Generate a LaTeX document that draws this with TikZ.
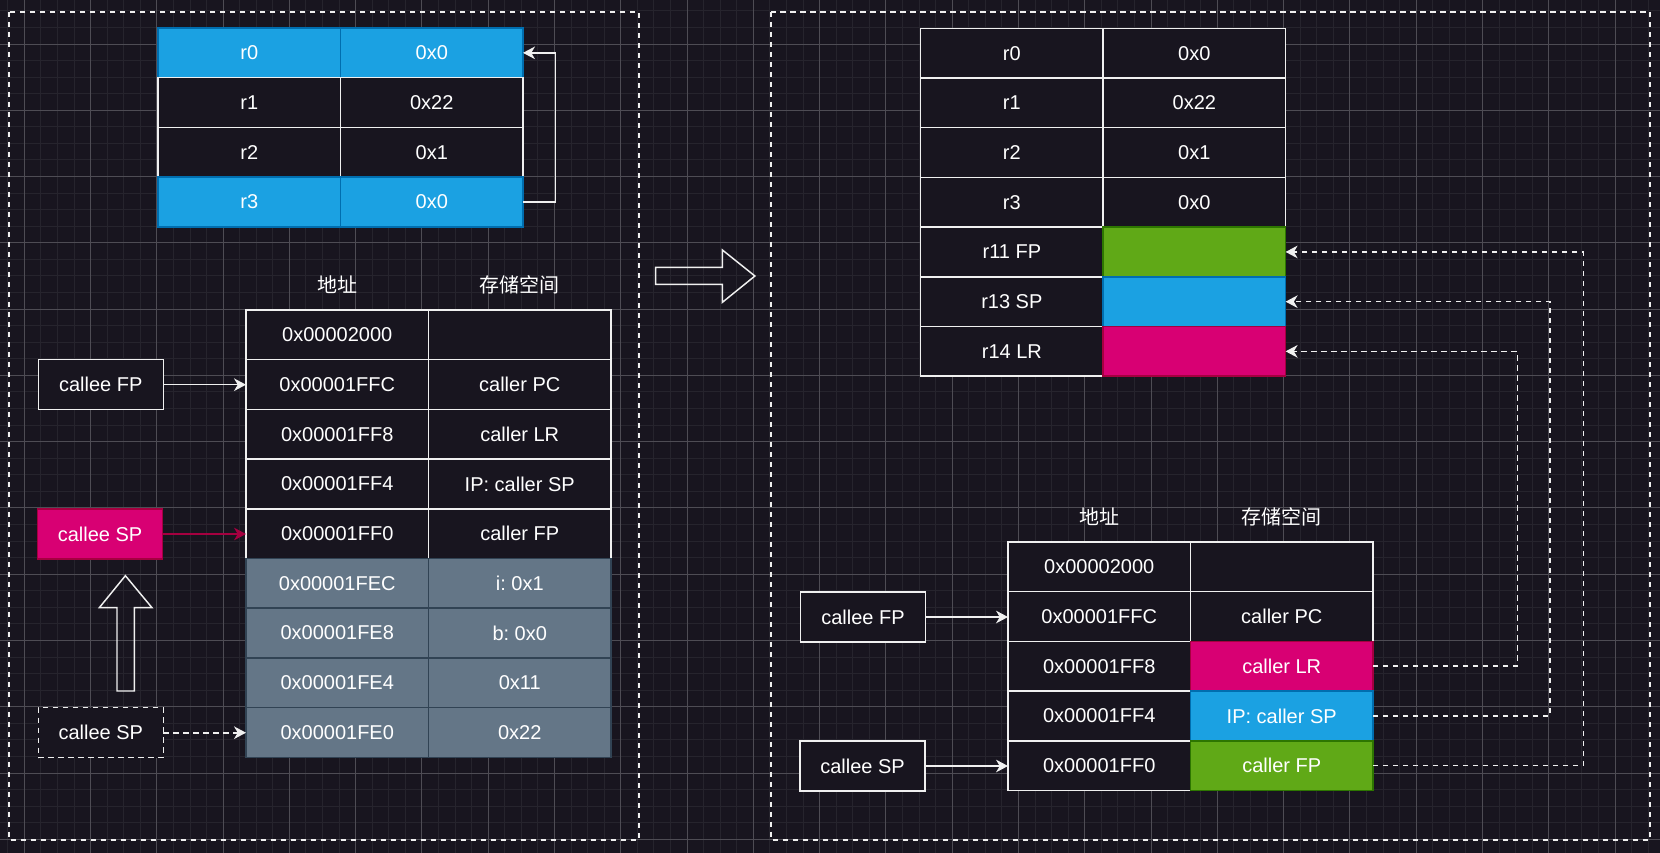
\documentclass[tikz,border=0pt]{standalone}
\usepackage{fontspec}
\setmainfont{Liberation Sans}
\newfontfamily\cjk{Noto Sans CJK SC}
\usetikzlibrary{arrows.meta}
\frenchspacing
\definecolor{bgc}{RGB}{24,21,31}
\definecolor{gminor}{RGB}{38,36,45}
\definecolor{gmajor}{RGB}{78,76,84}
\definecolor{fblue}{HTML}{1BA1E2}
\definecolor{sblue}{HTML}{006EAF}
\definecolor{fmag}{HTML}{D80073}
\definecolor{smag}{HTML}{A50040}
\definecolor{fgreen}{HTML}{60A917}
\definecolor{sgreen}{HTML}{2D7600}
\definecolor{fslate}{HTML}{647687}
\definecolor{sslate}{HTML}{314354}
\definecolor{linew}{HTML}{F0F0F0}
\begin{document}
\begin{tikzpicture}[x=0.75pt,y=-0.75pt,
  txt/.style={font=\fontsize{15pt}{18pt}\selectfont\frenchspacing, text=white},
  cell/.style={txt, draw=linew, fill=bgc, line width=1.1pt, minimum width=136.875pt, minimum height=37.275pt, inner sep=0pt, outer sep=0pt, anchor=north west},
  bluec/.style={fill=fblue, draw=sblue},
  magc/.style={fill=fmag, draw=smag},
  greenc/.style={fill=fgreen, draw=sgreen},
  slatec/.style={fill=fslate, draw=sslate},
  box/.style={txt, draw=linew, fill=bgc, line width=1.1pt, minimum width=93.75pt, minimum height=37.5pt, inner sep=0pt, outer sep=0pt},
  dbox/.style={dash pattern=on 4pt off 3.5pt},
  hdr/.style={txt, inner sep=0pt},
  arr/.style={draw=linew, line width=1.1pt, -{Stealth[length=9pt,width=9.5pt,inset=2.8pt]}},
  darr/.style={arr, line width=1.2pt, dash pattern=on 4pt off 3.5pt},
  frame/.style={draw=linew, line width=1.2pt, dash pattern=on 4pt off 3.5pt},
  blockarr/.style={draw=linew, line width=1.1pt, line join=miter}
]
\fill[bgc] (0,0) rectangle (1660,853);
\useasboundingbox (0,0) rectangle (1660,853);
% grid
\begin{scope}
\clip (0,0) rectangle (1660,853);
\foreach \k in {-1,...,100} {
  \draw[gminor, line width=0.75pt] ({24.3+16.57*\k},0) -- ({24.3+16.57*\k},853);
}
\foreach \k in {-3,...,50} {
  \draw[gminor, line width=0.75pt] (0,{44+16.57*\k}) -- (1660,{44+16.57*\k});
}
\foreach \k in {0,...,25} {
  \draw[gmajor, line width=0.75pt] ({24.3+66.28*\k},0) -- ({24.3+66.28*\k},853);
}
\foreach \k in {-1,...,12} {
  \draw[gmajor, line width=0.75pt] (0,{44+66.28*\k}) -- (1660,{44+66.28*\k});
}
\end{scope}

% containers
\draw[frame] (9,11.7) rectangle (638.9,840);
\draw[frame] (771,11.7) rectangle (1650,840);

% left register table
\node[cell,bluec] (L0a) at (158,28) {r0};
\node[cell,bluec] (L0b) at (340.5,28) {0x0};
\node[cell] (L1a) at (158,77.7) {r1};
\node[cell] (L1b) at (340.5,77.7) {0x22};
\node[cell] (L2a) at (158,127.4) {r2};
\node[cell] (L2b) at (340.5,127.4) {0x1};
\node[cell,bluec] (L3a) at (158,177.1) {r3};
\node[cell,bluec] (L3b) at (340.5,177.1) {0x0};
\coordinate (Lturn) at (555.6,0);
\draw[arr] (L3b.east) -| (Lturn |- L0b.east) -- (L0b.east);

% left memory table
\node[hdr] (LH1) at (337,285) {\cjk 地址};
\node[hdr] (LH2) at (519,285) {\cjk 存储空间};
\node[cell] (M0a) at (246,310) {0x00002000};
\node[cell] (M0b) at (428.5,310) {};
\node[cell] (M1a) at (246,359.7) {0x00001FFC};
\node[cell] (M1b) at (428.5,359.7) {caller PC};
\node[cell] (M2a) at (246,409.4) {0x00001FF8};
\node[cell] (M2b) at (428.5,409.4) {caller LR};
\node[cell] (M3a) at (246,459.1) {0x00001FF4};
\node[cell] (M3b) at (428.5,459.1) {IP: caller SP};
\node[cell] (M4a) at (246,508.8) {0x00001FF0};
\node[cell] (M4b) at (428.5,508.8) {caller FP};
\node[cell,slatec] (M5a) at (246,558.5) {0x00001FEC};
\node[cell,slatec] (M5b) at (428.5,558.5) {i: 0x1};
\node[cell,slatec] (M6a) at (246,608.2) {0x00001FE8};
\node[cell,slatec] (M6b) at (428.5,608.2) {b: 0x0};
\node[cell,slatec] (M7a) at (246,657.9) {0x00001FE4};
\node[cell,slatec] (M7b) at (428.5,657.9) {0x11};
\node[cell,slatec] (M8a) at (246,707.6) {0x00001FE0};
\node[cell,slatec] (M8b) at (428.5,707.6) {0x22};

% left pointer boxes
\node[box] (lfp) at (100.8,384.7) {callee FP};
\node[box,magc] (lsp) at (100,534) {callee SP};
\node[box,dbox] (lsp0) at (100.8,732.7) {callee SP};
\draw[arr] (lfp.east) -- (lfp.east -| M1a.west);
\draw[arr,draw=smag,fill=smag] (lsp.east) -- (lsp.east -| M4a.west);
\draw[darr] (lsp0.east) -- (lsp0.east -| M8a.west);

% up block arrow
\draw[blockarr] (125.4,575.7) -- (152,607.7) -- (134.3,607.7) -- (134.3,691) -- (117,691) -- (117,607.7) -- (99.3,607.7) -- cycle;

% right block arrow
\draw[blockarr] (655.6,267.3) -- (722.4,267.3) -- (722.4,250) -- (754.9,276) -- (722.4,302.3) -- (722.4,284.3) -- (655.6,284.3) -- cycle;

% right register table
\node[cell] (RR0a) at (920.6,28.3) {r0};
\node[cell] (RR0b) at (1103.1,28.3) {0x0};
\node[cell] (RR1a) at (920.6,78) {r1};
\node[cell] (RR1b) at (1103.1,78) {0x22};
\node[cell] (RR2a) at (920.6,127.7) {r2};
\node[cell] (RR2b) at (1103.1,127.7) {0x1};
\node[cell] (RR3a) at (920.6,177.4) {r3};
\node[cell] (RR3b) at (1103.1,177.4) {0x0};
\node[cell] (RR4a) at (920.6,227.1) {r11 FP};
\node[cell,greenc] (RR4b) at (1103.1,227.1) {};
\node[cell] (RR5a) at (920.6,276.8) {r13 SP};
\node[cell,bluec] (RR5b) at (1103.1,276.8) {};
\node[cell] (RR6a) at (920.6,326.5) {r14 LR};
\node[cell,magc] (RR6b) at (1103.1,326.5) {};

% right memory table
\node[hdr] (RH1) at (1099,516.7) {\cjk 地址};
\node[hdr] (RH2) at (1281,516.7) {\cjk 存储空间};
\node[cell] (R0a) at (1008,542) {0x00002000};
\node[cell] (R0b) at (1190.5,542) {};
\node[cell] (R1a) at (1008,591.7) {0x00001FFC};
\node[cell] (R1b) at (1190.5,591.7) {caller PC};
\node[cell] (R2a) at (1008,641.4) {0x00001FF8};
\node[cell,magc] (R2b) at (1190.5,641.4) {caller LR};
\node[cell] (R3a) at (1008,691.1) {0x00001FF4};
\node[cell,bluec] (R3b) at (1190.5,691.1) {IP: caller SP};
\node[cell] (R4a) at (1008,740.8) {0x00001FF0};
\node[cell,greenc] (R4b) at (1190.5,740.8) {caller FP};

% right pointer boxes
\node[box] (rfp) at (863,617) {callee FP};
\node[box] (rsp) at (862.5,766) {callee SP};
\draw[arr] (rfp.east) -- (rfp.east -| R1a.west);
\draw[arr] (rsp.east) -- (rsp.east -| R4a.west);

% saved register connectors
\coordinate (t1) at (1517.3,0);
\coordinate (t2) at (1550,0);
\coordinate (t3) at (1583.3,0);
\draw[darr] (R2b.east) -| (t1 |- RR6b.east) -- (RR6b.east);
\draw[darr] (R3b.east) -| (t2 |- RR5b.east) -- (RR5b.east);
\draw[darr] (R4b.east) -| (t3 |- RR4b.east) -- (RR4b.east);
\end{tikzpicture}
\end{document}
